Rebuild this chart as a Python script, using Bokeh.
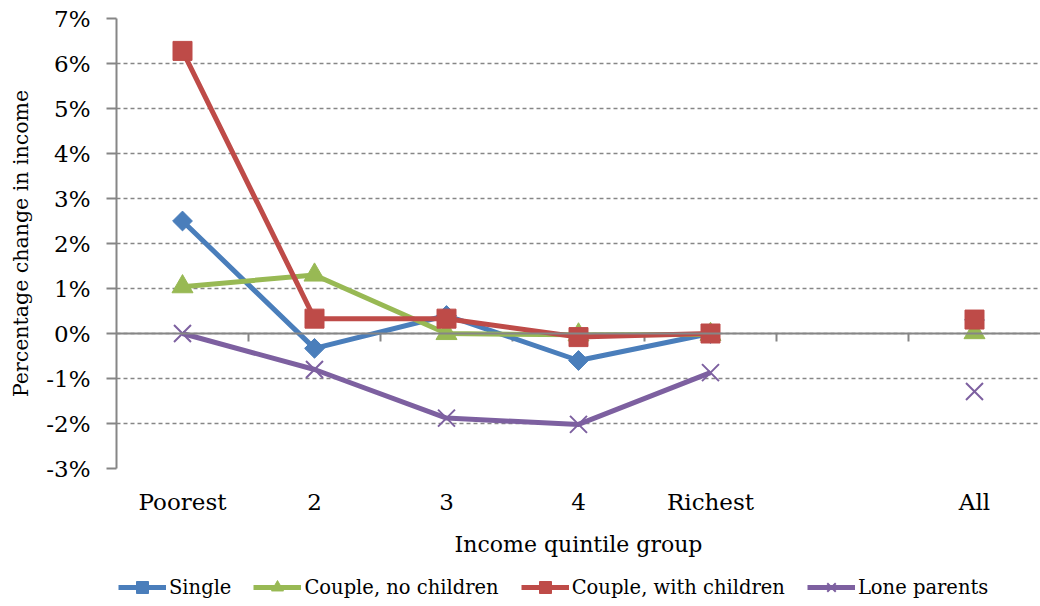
import math
from bokeh.plotting import figure
from bokeh.layouts import column
from bokeh.models import (Range1d, FixedTicker, PrintfTickFormatter, Span, Legend,
                          LegendItem, ColumnDataSource)
from bokeh.embed import file_html
from bokeh.resources import INLINE

NaN = float("nan")

# ---- data ----
categories = ["Poorest", "2", "3", "4", "Richest", "", "All"]
single = [2.5, -0.33, 0.4, -0.6, 0.0, NaN, 0.3]
couple_no_children = [1.04, 1.3, 0.0, -0.03, -0.02, NaN, 0.02]
couple_with_children = [6.28, 0.33, 0.33, -0.08, 0.0, NaN, 0.31]
lone_parents = [0.0, -0.8, -1.88, -2.02, -0.87, NaN, -1.29]
y_ticks = [-3, -2, -1, 0, 1, 2, 3, 4, 5, 6, 7]

series_names = ["Single", "Couple, no children", "Couple, with children", "Lone parents"]
series_values = [single, couple_no_children, couple_with_children, lone_parents]
series_colors = ["#4A7EBB", "#98B954", "#BE4B48", "#7D60A0"]
series_markers = ["square", "triangle", "square", "x"]
series_angles = [math.pi / 4, 0, 0, 0]
series_sizes = [14, 21, 19, 24]

FONT = "DejaVu Serif"
GRID = "#868686"

xs = list(range(len(categories)))

p = figure(frame_width=924, frame_height=450, output_backend="svg", toolbar_location=None,
           x_range=Range1d(-0.5, len(categories) - 0.5),
           y_range=Range1d(min(y_ticks), max(y_ticks)),
           min_border_left=116, min_border_right=0, min_border_top=18,
           min_border_bottom=100)
p.outline_line_color = None
p.background_fill_color = "white"
p.border_fill_color = "white"

# grid
p.xgrid.grid_line_color = None
p.ygrid.ticker = FixedTicker(ticks=y_ticks)
p.ygrid.grid_line_color = GRID
p.ygrid.grid_line_dash = "4 3"
p.ygrid.grid_line_width = 1.5

# y axis
p.yaxis.ticker = FixedTicker(ticks=y_ticks)
p.yaxis.formatter = PrintfTickFormatter(format="%d%%")
p.yaxis.axis_line_color = GRID
p.yaxis.axis_line_width = 2
p.yaxis.major_tick_line_color = GRID
p.yaxis.major_tick_line_width = 2
p.yaxis.major_tick_out = 10
p.yaxis.major_tick_in = 0
p.yaxis.minor_tick_line_color = None
p.yaxis.major_label_text_font = FONT
p.yaxis.major_label_text_font_size = "23px"
p.yaxis.major_label_text_color = "black"
p.yaxis.major_label_standoff = 16
p.yaxis.axis_label = "Percentage change in income"
p.yaxis.axis_label_text_font = FONT
p.yaxis.axis_label_text_font_size = "20.5px"
p.yaxis.axis_label_text_font_style = "normal"
p.yaxis.axis_label_text_color = "black"
p.yaxis.axis_label_standoff = 10

# x axis (labels at bottom, no line)
p.xaxis.ticker = FixedTicker(ticks=xs)
p.xaxis.major_label_overrides = {i: c for i, c in enumerate(categories)}
p.xaxis.axis_line_color = None
p.xaxis.major_tick_line_color = None
p.xaxis.minor_tick_line_color = None
p.xaxis.major_label_text_font = FONT
p.xaxis.major_label_text_font_size = "23px"
p.xaxis.major_label_text_color = "black"
p.xaxis.major_label_standoff = 14
p.xaxis.axis_label = "Income quintile group"
p.xaxis.axis_label_text_font = FONT
p.xaxis.axis_label_text_font_size = "22px"
p.xaxis.axis_label_text_font_style = "normal"
p.xaxis.axis_label_text_color = "black"
p.xaxis.axis_label_standoff = 14

# zero line with category-boundary tick marks
p.add_layout(Span(location=0, dimension="width", line_color=GRID, line_width=2))
bounds = [i - 0.5 for i in range(1, len(categories))]
p.segment(x0=bounds, x1=bounds, y0=[0] * len(bounds), y1=[-0.18] * len(bounds),
          line_color=GRID, line_width=2)

# legend strip (separate small figure; its ranges keep the series out of view)
lg = figure(width=1040, height=38, output_backend="svg", toolbar_location=None,
            x_range=Range1d(100, 101), y_range=Range1d(100, 101),
            x_axis_location=None, y_axis_location=None,
            min_border_left=0, min_border_right=0, min_border_top=0,
            min_border_bottom=0)
lg.outline_line_color = None
lg.grid.grid_line_color = None

items = []
for name, vals, col, mk, ang, sz in zip(series_names, series_values, series_colors,
                                         series_markers, series_angles, series_sizes):
    src = ColumnDataSource(dict(x=xs, y=vals))
    p.line("x", "y", source=src, line_color=col, line_width=5, line_join="round")
    p.scatter("x", "y", source=src, marker=mk, size=sz, angle=ang,
              fill_color=col, line_color=col, line_width=2 if mk == "x" else 1)
    ln = lg.line("x", "y", source=src, line_color=col, line_width=5)
    sc = lg.scatter("x", "y", source=src, marker=mk, angle=ang,
                    fill_color=col, line_color=col, line_width=2 if mk == "x" else 1)
    items.append(LegendItem(label=name, renderers=[ln, sc]))

legend = Legend(items=items, orientation="horizontal", location=(2, 4),
                label_text_font=FONT, label_text_font_size="19.5px",
                label_text_color="black",
                glyph_width=48, glyph_height=30, spacing=22, label_standoff=3,
                padding=0, margin=0, border_line_color=None,
                background_fill_alpha=0)
lg.add_layout(legend)

layout = column(p, lg, spacing=0)
open("out.html", "w").write(file_html(layout, INLINE))
